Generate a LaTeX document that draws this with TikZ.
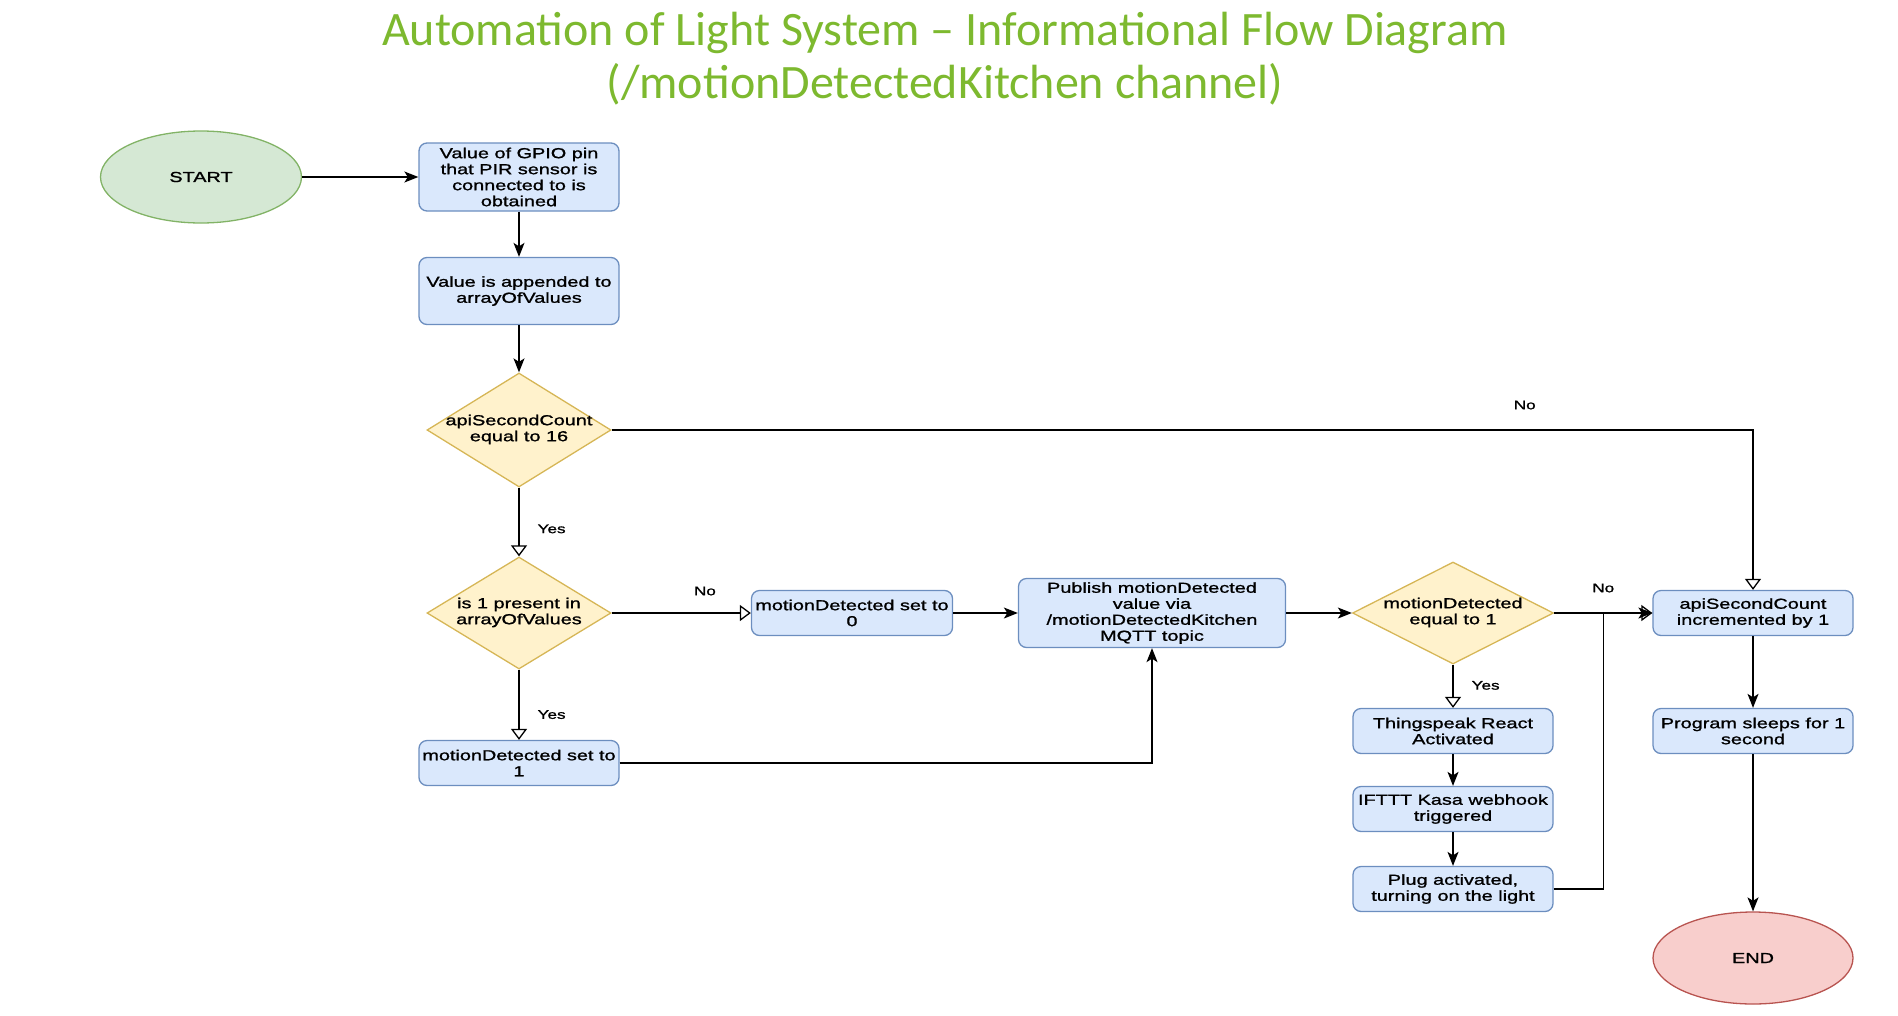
\documentclass[tikz,border=0pt]{standalone}
\usepackage{fontspec}
\setmainfont{Liberation Sans}
\newfontfamily\boxfont[FakeStretch=1.37,FakeBold=1.2]{Liberation Sans}
\newfontfamily\titlefont{Carlito}
\usetikzlibrary{arrows.meta, shapes.geometric, calc}
\definecolor{TitleG}{HTML}{7DB92F}
\definecolor{BoxF}  {HTML}{DAE8FC}
\definecolor{BoxD}  {HTML}{6C8EBF}
\definecolor{DecF}  {HTML}{FFF2CC}
\definecolor{DecD}  {HTML}{D6B656}
\definecolor{StartF}{HTML}{D5E8D4}
\definecolor{StartD}{HTML}{82B366}
\definecolor{EndF}  {HTML}{F8CECC}
\definecolor{EndD}  {HTML}{B85450}
% zero-width text for the diamonds, so the size comes from the style
\newcommand{\dlines}[1]{\makebox[0pt]{\begin{tabular}{@{}c@{}}#1\end{tabular}}}
\tikzset{
  proc/.style={
    rectangle, rounded corners=8pt,
    draw=BoxD, fill=BoxF, line width=1.3pt,
    font=\boxfont\fontsize{14.5}{16}\selectfont, align=center,
    inner sep=1pt, minimum width=200pt, minimum height=45pt,
  },
  dec/.style={
    diamond, draw=DecD, fill=DecF, line width=1.3pt,
    font=\boxfont\fontsize{14.5}{16}\selectfont,
    inner sep=0pt, minimum width=184pt, minimum height=114pt,
  },
  term/.style args={#1/#2}{
    ellipse, draw=#1, fill=#2, line width=1.3pt,
    font=\boxfont\fontsize{14.5}{16}\selectfont,
    minimum width=201pt, minimum height=92pt,
  },
  arr/.style={
    -{Stealth[length=14pt,width=11pt,inset=3.5pt]},
    line width=1.3pt,
  },
  oarr/.style={
    -{Triangle[open,length=11pt,width=16pt]},
    line width=1.3pt,
  },
  lbl/.style={
    font=\boxfont\fontsize{12.5}{14}\selectfont, inner sep=0pt,
  },
  ttl/.style={
    font=\titlefont\fontsize{48}{50}\selectfont,
    text=TitleG, anchor=base,
  },
}
\begin{document}
\begin{tikzpicture}[x=1pt,y=-1pt]
  \useasboundingbox (0,0) rectangle (1898,1015);
  \node[ttl] (t1) at (945,45) {Automation of Light System – Informational Flow Diagram};
  \node[ttl] (t2) at (945,98) {(/motionDetectedKitchen channel)};

  \node[term=StartD/StartF] (start) at (201,177) {START};
  \node[proc, minimum height=68pt] (gpio) at (519,177)
       {Value of GPIO pin\\that PIR sensor is\\connected to is\\obtained};
  \node[proc, minimum height=67pt] (append) at (519,291)
       {Value is appended to\\arrayOfValues};
  \node[dec] (cnt16) at (519,430) {\dlines{apiSecondCount\\equal to 16}};
  \node[dec, minimum height=112pt] (present) at (519,613)
       {\dlines{is 1 present in\\arrayOfValues}};
  \node[proc] (set1) at (519,763) {motionDetected set to\\1};
  \node[proc, minimum width=201pt] (set0) at (852,613)
       {motionDetected set to\\0};
  \node[proc, minimum width=267pt, minimum height=69pt] (publish) at (1152,613)
       {Publish motionDetected\\value via\\/motionDetectedKitchen\\MQTT topic};
  \node[dec, minimum width=201pt, minimum height=102pt] (eq1) at (1453,613)
       {\dlines{motionDetected\\equal to 1}};
  \node[proc] (thing) at (1453,731) {Thingspeak React\\Activated};
  \node[proc] (ifttt) at (1453,809) {IFTTT Kasa webhook\\triggered};
  \node[proc] (plug)  at (1453,889) {Plug activated,\\turning on the light};
  \node[proc] (incr)  at (1753,613) {apiSecondCount\\incremented by 1};
  \node[proc] (sleep) at (1753,731) {Program sleeps for 1\\second};
  \node[term=EndD/EndF, minimum width=200pt] (finish) at (1753,958) {END};

  \draw[arr] (start) -- (gpio);
  \draw[arr] (gpio) -- (append);
  \draw[arr] (append) -- (cnt16);
  \draw[oarr] (cnt16) -| node[lbl, above=20pt, pos=0.4] (no1) {No} (incr);
  \draw[oarr] (cnt16) -- node[lbl, right=18pt, pos=0.6] (yes1) {Yes} (present);
  \draw[oarr] (present) -- node[lbl, above=17pt, pos=0.67] (no2) {No} (set0);
  \draw[oarr] (present) -- node[lbl, right=18pt, pos=0.64] (yes2) {Yes} (set1);
  \draw[arr] (set1) -| (publish);
  \draw[arr] (set0) -- (publish);
  \draw[arr] (publish) -- (eq1);
  \draw[oarr] (eq1) -- node[lbl, above=20pt] (no3) {No} (incr);
  \draw[oarr] (eq1) -- node[lbl, right=18pt, pos=0.48] (yes3) {Yes} (thing);
  \draw[arr] (thing) -- (ifttt);
  \draw[arr] (ifttt) -- (plug);
  \coordinate (mrg) at ($(eq1.east)!0.5!(incr.west)$);
  \draw[arr] (plug) -| (mrg) -- (incr);
  \draw[arr] (incr) -- (sleep);
  \draw[arr] (sleep) -- (finish);
\end{tikzpicture}
\end{document}
